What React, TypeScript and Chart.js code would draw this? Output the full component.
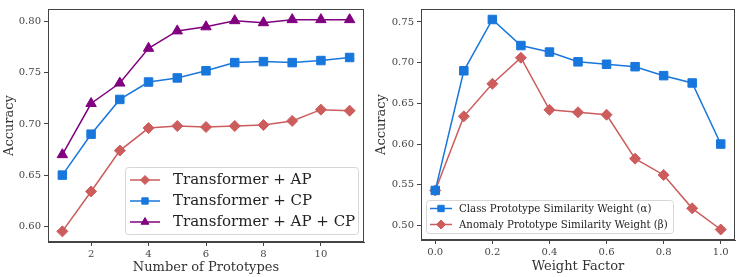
import React, { useEffect, useRef } from 'react';
import { Chart, registerables } from 'chart.js';

Chart.register(...registerables);

// ---------- Left chart data ----------
const prototypes = [1, 2, 3, 4, 5, 6, 7, 8, 9, 10, 11];
const apAcc = [0.595, 0.634, 0.674, 0.696, 0.698, 0.697, 0.698, 0.699, 0.703, 0.714, 0.713];
const cpAcc = [0.650, 0.690, 0.724, 0.741, 0.745, 0.752, 0.760, 0.761, 0.760, 0.762, 0.765];
const apcpAcc = [0.670, 0.720, 0.740, 0.774, 0.791, 0.795, 0.801, 0.799, 0.802, 0.802, 0.802];
const leftXTicks = [2, 4, 6, 8, 10];
const leftYTicks = [0.60, 0.65, 0.70, 0.75, 0.80];

// ---------- Right chart data ----------
const weights = [0.0, 0.1, 0.2, 0.3, 0.4, 0.5, 0.6, 0.7, 0.8, 0.9, 1.0];
const alphaAcc = [0.543, 0.690, 0.753, 0.721, 0.713, 0.701, 0.698, 0.695, 0.684, 0.675, 0.600];
const betaAcc = [0.543, 0.634, 0.674, 0.706, 0.642, 0.639, 0.636, 0.582, 0.562, 0.521, 0.495];
const rightXTicks = [0.0, 0.2, 0.4, 0.6, 0.8, 1.0];
const rightYTicks = [0.50, 0.55, 0.60, 0.65, 0.70, 0.75];

const RED = '#cd5c5c';
const BLUE = '#1877dc';
const PURPLE = '#800080';
const FONT = "'DejaVu Serif', serif";
const TICK_COLOR = '#444';
const TITLE_COLOR = '#333';
const AXIS_COLOR = '#444';

function drawMarker(ctx: CanvasRenderingContext2D, style: string, x: number, y: number, r: number, color: string) {
  ctx.save();
  ctx.fillStyle = color;
  ctx.strokeStyle = color;
  ctx.lineWidth = 1;
  ctx.beginPath();
  if (style === 'rect') {
    const s = r * Math.SQRT1_2;
    ctx.rect(x - s, y - s, 2 * s, 2 * s);
  } else if (style === 'rectRot') {
    ctx.moveTo(x, y - r);
    ctx.lineTo(x + r, y);
    ctx.lineTo(x, y + r);
    ctx.lineTo(x - r, y);
    ctx.closePath();
  } else {
    const a = (2 * Math.PI) / 3;
    ctx.moveTo(x, y - r);
    ctx.lineTo(x + Math.sin(a) * r, y - Math.cos(a) * r);
    ctx.lineTo(x + Math.sin(2 * a) * r, y - Math.cos(2 * a) * r);
    ctx.closePath();
  }
  ctx.fill();
  ctx.stroke();
  ctx.restore();
}

const framePlugin = {
  id: 'frame',
  afterDatasetsDraw(chart: any) {
    const { ctx, chartArea: a } = chart;
    ctx.save();
    ctx.strokeStyle = AXIS_COLOR;
    ctx.lineWidth = 1;
    const l = Math.round(a.left) + 0.5;
    const t = Math.round(a.top) + 0.5;
    const r = Math.round(a.right) - 0.5;
    const b = Math.round(a.bottom) - 0.5;
    ctx.strokeRect(l, t, r - l, b - t);
    ctx.restore();
  },
};

const boxLegendPlugin = {
  id: 'boxLegend',
  afterDraw(chart: any, _args: any, opts: any) {
    if (!opts || !opts.display) return;
    const { ctx } = chart;
    ctx.save();
    const { x, y, w, h, rows, lineX0, lineX1, textX, size, markerR } = opts;
    ctx.beginPath();
    const rad = 3;
    ctx.moveTo(x + rad, y);
    ctx.lineTo(x + w - rad, y);
    ctx.quadraticCurveTo(x + w, y, x + w, y + rad);
    ctx.lineTo(x + w, y + h - rad);
    ctx.quadraticCurveTo(x + w, y + h, x + w - rad, y + h);
    ctx.lineTo(x + rad, y + h);
    ctx.quadraticCurveTo(x, y + h, x, y + h - rad);
    ctx.lineTo(x, y + rad);
    ctx.quadraticCurveTo(x, y, x + rad, y);
    ctx.closePath();
    ctx.fillStyle = 'rgba(255,255,255,0.85)';
    ctx.fill();
    ctx.strokeStyle = '#d6d6d6';
    ctx.lineWidth = 1;
    ctx.stroke();
    chart.data.datasets.forEach((ds: any, i: number) => {
      const ry = rows[i];
      ctx.strokeStyle = ds.borderColor;
      ctx.lineWidth = 1.5;
      ctx.beginPath();
      ctx.moveTo(lineX0, ry);
      ctx.lineTo(lineX1, ry);
      ctx.stroke();
      drawMarker(ctx, ds.pointStyle, (lineX0 + lineX1) / 2, ry, markerR, ds.borderColor);
      ctx.fillStyle = '#222';
      ctx.font = `${size}px ${FONT}`;
      ctx.textBaseline = 'middle';
      ctx.textAlign = 'left';
      ctx.fillText(ds.label, textX, ry + 0.5);
    });
    ctx.restore();
  },
};

function makeDataset(label: string, xs: number[], ys: number[], color: string, style: string, r: number) {
  return {
    label,
    data: xs.map((x, i) => ({ x, y: ys[i] })),
    borderColor: color,
    backgroundColor: color,
    pointBackgroundColor: color,
    pointBorderColor: color,
    pointStyle: style,
    pointRadius: r,
    pointBorderWidth: 1,
    borderWidth: 1.5,
    tension: 0,
    clip: false,
  };
}

function axisCommon(ticks: number[], fmt: (v: number) => string, title: string, fixedSize: number, horizontal: boolean, titlePad: number) {
  return {
    type: 'linear',
    afterBuildTicks: (s: any) => {
      s.ticks = ticks.map((v) => ({ value: v }));
    },
    afterFit: (s: any) => {
      if (horizontal) s.height = fixedSize;
      else s.width = fixedSize;
    },
    ticks: {
      callback: (v: any) => fmt(Number(v)),
      font: { family: FONT, size: 10 },
      color: TICK_COLOR,
      padding: horizontal ? 2 : 3,
      autoSkip: false,
      maxRotation: 0,
      minRotation: 0,
    },
    grid: {
      display: true,
      drawOnChartArea: false,
      drawTicks: true,
      tickLength: 4,
      color: AXIS_COLOR,
      tickColor: AXIS_COLOR,
    },
    border: { display: true, color: AXIS_COLOR, width: 1 },
    title: {
      display: true,
      text: title,
      font: { family: FONT, size: 13 },
      color: TITLE_COLOR,
      padding: { top: titlePad, bottom: titlePad },
    },
  };
}

function LeftChart() {
  const ref = useRef<HTMLCanvasElement>(null);
  useEffect(() => {
    const chart = new Chart(ref.current as HTMLCanvasElement, {
      type: 'line',
      data: {
        datasets: [
          makeDataset('Transformer + AP', prototypes, apAcc, RED, 'rectRot', 5.5),
          makeDataset('Transformer + CP', prototypes, cpAcc, BLUE, 'rect', 6),
          makeDataset('Transformer + AP + CP', prototypes, apcpAcc, PURPLE, 'triangle', 6),
        ],
      },
      options: {
        responsive: false,
        animation: false,
        layout: { padding: { left: 0, top: 9, right: 5, bottom: 0 } },
        scales: {
          x: { ...axisCommon(leftXTicks, (v) => String(v), 'Number of Prototypes', 35, true, 2), min: 0.5, max: 11.5 },
          y: { ...axisCommon(leftYTicks, (v) => v.toFixed(2), 'Accuracy', 48, false, 2), min: 0.5846, max: 0.8124 },
        },
        plugins: {
          legend: { display: false },
          tooltip: { enabled: false },
          boxLegend: {
            display: true,
            x: 125.5, y: 167.5, w: 233, h: 67,
            rows: [180, 201, 222],
            lineX0: 130, lineX1: 160, textX: 173,
            size: 15, markerR: 4.5,
          },
        },
      } as any,
      plugins: [framePlugin, boxLegendPlugin],
    });
    return () => chart.destroy();
  }, []);
  return <canvas ref={ref} width={371} height={277} style={{ position: 'absolute', left: 0, top: 0 }} />;
}

function RightChart() {
  const ref = useRef<HTMLCanvasElement>(null);
  useEffect(() => {
    const chart = new Chart(ref.current as HTMLCanvasElement, {
      type: 'line',
      data: {
        datasets: [
          makeDataset('Class Prototype Similarity Weight (α)', weights, alphaAcc, BLUE, 'rect', 6),
          makeDataset('Anomaly Prototype Similarity Weight (β)', weights, betaAcc, RED, 'rectRot', 5.5),
        ],
      },
      options: {
        responsive: false,
        animation: false,
        layout: { padding: { left: 0, top: 7, right: 4, bottom: 0 } },
        scales: {
          x: { ...axisCommon(rightXTicks, (v) => v.toFixed(1), 'Weight Factor', 37, true, 3), min: -0.05, max: 1.05 },
          y: { ...axisCommon(rightYTicks, (v) => v.toFixed(2), 'Accuracy', 50, false, 3), min: 0.4821, max: 0.7659 },
        },
        plugins: {
          legend: { display: false },
          tooltip: { enabled: false },
          boxLegend: {
            display: true,
            x: 55.5, y: 200.5, w: 247, h: 33,
            rows: [208.5, 224.5],
            lineX0: 59, lineX1: 81, textX: 88,
            size: 10.2, markerR: 4.5,
          },
        },
      } as any,
      plugins: [framePlugin, boxLegendPlugin],
    });
    return () => chart.destroy();
  }, []);
  return <canvas ref={ref} width={371} height={277} style={{ position: 'absolute', left: 371, top: 0 }} />;
}

export default function App() {
  return (
    <div style={{ position: 'fixed', left: 0, top: 0, width: 742, height: 277, background: '#fff', overflow: 'hidden' }}>
      <LeftChart />
      <RightChart />
    </div>
  );
}
